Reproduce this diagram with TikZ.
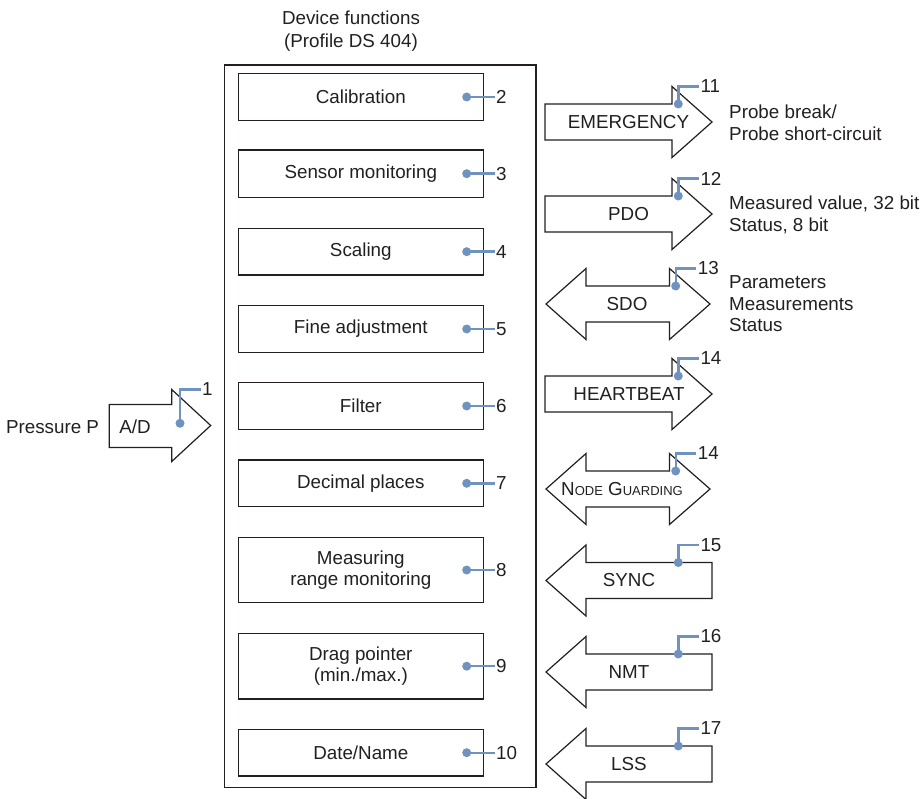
\documentclass[tikz,border=0pt]{standalone}
\usepackage{fontspec}
\setmainfont{Liberation Sans}
\definecolor{ink}{RGB}{35,31,32}
\definecolor{callc}{RGB}{112,146,190}
\tikzset{
  every node/.style={text=ink, font=\fontsize{18.8}{21.7}\selectfont},
  fbox/.style={draw=ink, line width=1.4pt, minimum width=245pt, inner sep=0pt, align=center},
  outerbox/.style={draw=ink, line width=1.3pt},
  arr/.style={draw=ink, line width=1.2pt, line join=miter, fill=white},
  dot/.style={circle, fill=callc, minimum size=9pt, inner sep=0pt},
  num/.style={anchor=west, inner sep=1.5pt},
  callline/.style={draw=callc, line width=2.4pt},
  lbl/.style={anchor=west, align=left, inner sep=0pt},
}
\newcommand\ArrR[1]{\draw[arr] (545,#1-18) -- (672,#1-18) -- (672,#1-35.5) -- (712,#1) -- (672,#1+35.5) -- (672,#1+18) -- (545,#1+18) -- cycle;}
\newcommand\ArrL[1]{\draw[arr] (712,#1-18) -- (586,#1-18) -- (586,#1-35.5) -- (546,#1) -- (586,#1+35.5) -- (586,#1+18) -- (712,#1+18) -- cycle;}
\newcommand\ArrB[1]{\draw[arr] (546,#1) -- (586,#1-35.5) -- (586,#1-18) -- (669.5,#1-18) -- (669.5,#1-35.5) -- (710,#1) -- (669.5,#1+35.5) -- (669.5,#1+18) -- (586,#1+18) -- (586,#1+35.5) -- cycle;}
% name, xdot, ydot, ytop, text
\newcommand\CallOut[5]{%
  \node[dot] (d#1) at (#2,#3) {};
  \node[num] (n#1) at (#2+20.5,#4) {#5};
  \draw[callline] (d#1.center) |- (n#1.west);}
% name, ycenter, text
\newcommand\FnCall[3]{%
  \node[dot] (d#1) at (466.7,#2) {};
  \node[num] (n#1) at (494.5,#2) {#3};
  \draw[callline] (d#1.center) -- (n#1.west);}
\begin{document}
\begin{tikzpicture}[x=1pt,y=-1pt]
\useasboundingbox (0,0) rectangle (920,799);

% heading
\node[align=center, font=\fontsize{18.8}{23}\selectfont] (head) at (351,31.5) {Device functions\\(Profile DS 404)};

% outer box
\draw[outerbox] (224.3,65) rectangle (536,787.3);

% function boxes
\node[fbox, minimum height=47.4pt] (b2) at (360.8,97) {Calibration};
\node[fbox, minimum height=47.3pt] (b3) at (360.8,173.7) {Sensor monitoring};
\node[fbox, minimum height=46.7pt] (b4) at (360.8,251.7) {Scaling};
\node[fbox, minimum height=46.6pt] (b5) at (360.8,329) {Fine adjustment};
\node[fbox, minimum height=46.6pt] (b6) at (360.8,406) {Filter};
\node[fbox, minimum height=46.7pt] (b7) at (360.8,483.3) {Decimal places};
\node[fbox, minimum height=65.4pt] (b8) at (360.8,570) {Measuring\\range monitoring};
\node[fbox, minimum height=65.7pt] (b9) at (360.8,666.2) {Drag pointer\\(min./max.)};
\node[fbox, minimum height=46.7pt] (b10) at (360.8,752.7) {Date/Name};

\FnCall{f2}{97}{2}
\FnCall{f3}{173.7}{3}
\FnCall{f4}{251.7}{4}
\FnCall{f5}{329}{5}
\FnCall{f6}{406}{6}
\FnCall{f7}{483.3}{7}
\FnCall{f8}{570}{8}
\FnCall{f9}{666.2}{9}
\FnCall{f10}{752.7}{10}

% input A/D arrow
\draw[arr] (109.3,404.5) -- (171.7,404.5) -- (171.7,389.5) -- (210.7,425.5) -- (171.7,461.5) -- (171.7,447.5) -- (109.3,447.5) -- cycle;
\node (press) at (52.5,427) {Pressure P};
\node (ad) at (135,427) {A/D};
\CallOut{c1}{180}{423.3}{389.5}{1}

% communication arrows
\ArrR{122}
\node (emg) at (628.5,122) {EMERGENCY};
\CallOut{c11}{678.3}{104}{86.5}{11}
\node[lbl] (t11) at (729,122.5) {Probe break/\\Probe short-circuit};

\ArrR{214}
\node (pdo) at (628.5,214.5) {PDO};
\CallOut{c12}{678.3}{196}{178.5}{12}
\node[lbl] (t12) at (729,215) {Measured value, 32 bit\\Status, 8 bit};

\ArrB{304}
\node (sdo) at (627,304) {SDO};
\CallOut{c13}{675.7}{286}{268.5}{13}
\node[lbl] (t13) at (729,303.7) {Parameters\\Measurements\\Status};

\ArrR{394}
\node (hb) at (629,394) {HEARTBEAT};
\CallOut{c14a}{678.3}{376}{358.5}{14}

\ArrB{489}
\node (ng) at (622,489) {N{\fontsize{13}{15}\selectfont ODE} G{\fontsize{13}{15}\selectfont UARDING}};
\CallOut{c14b}{675.7}{471}{453.5}{14}

\ArrL{580.5}
\node (sync) at (629,580.5) {SYNC};
\CallOut{c15}{678.3}{562.5}{545}{15}

\ArrL{672}
\node (nmt) at (629,672) {NMT};
\CallOut{c16}{678.3}{654}{636.5}{16}

\ArrL{764}
\node (lss) at (629,764) {LSS};
\CallOut{c17}{678.3}{746}{728.5}{17}

\end{tikzpicture}
\end{document}
